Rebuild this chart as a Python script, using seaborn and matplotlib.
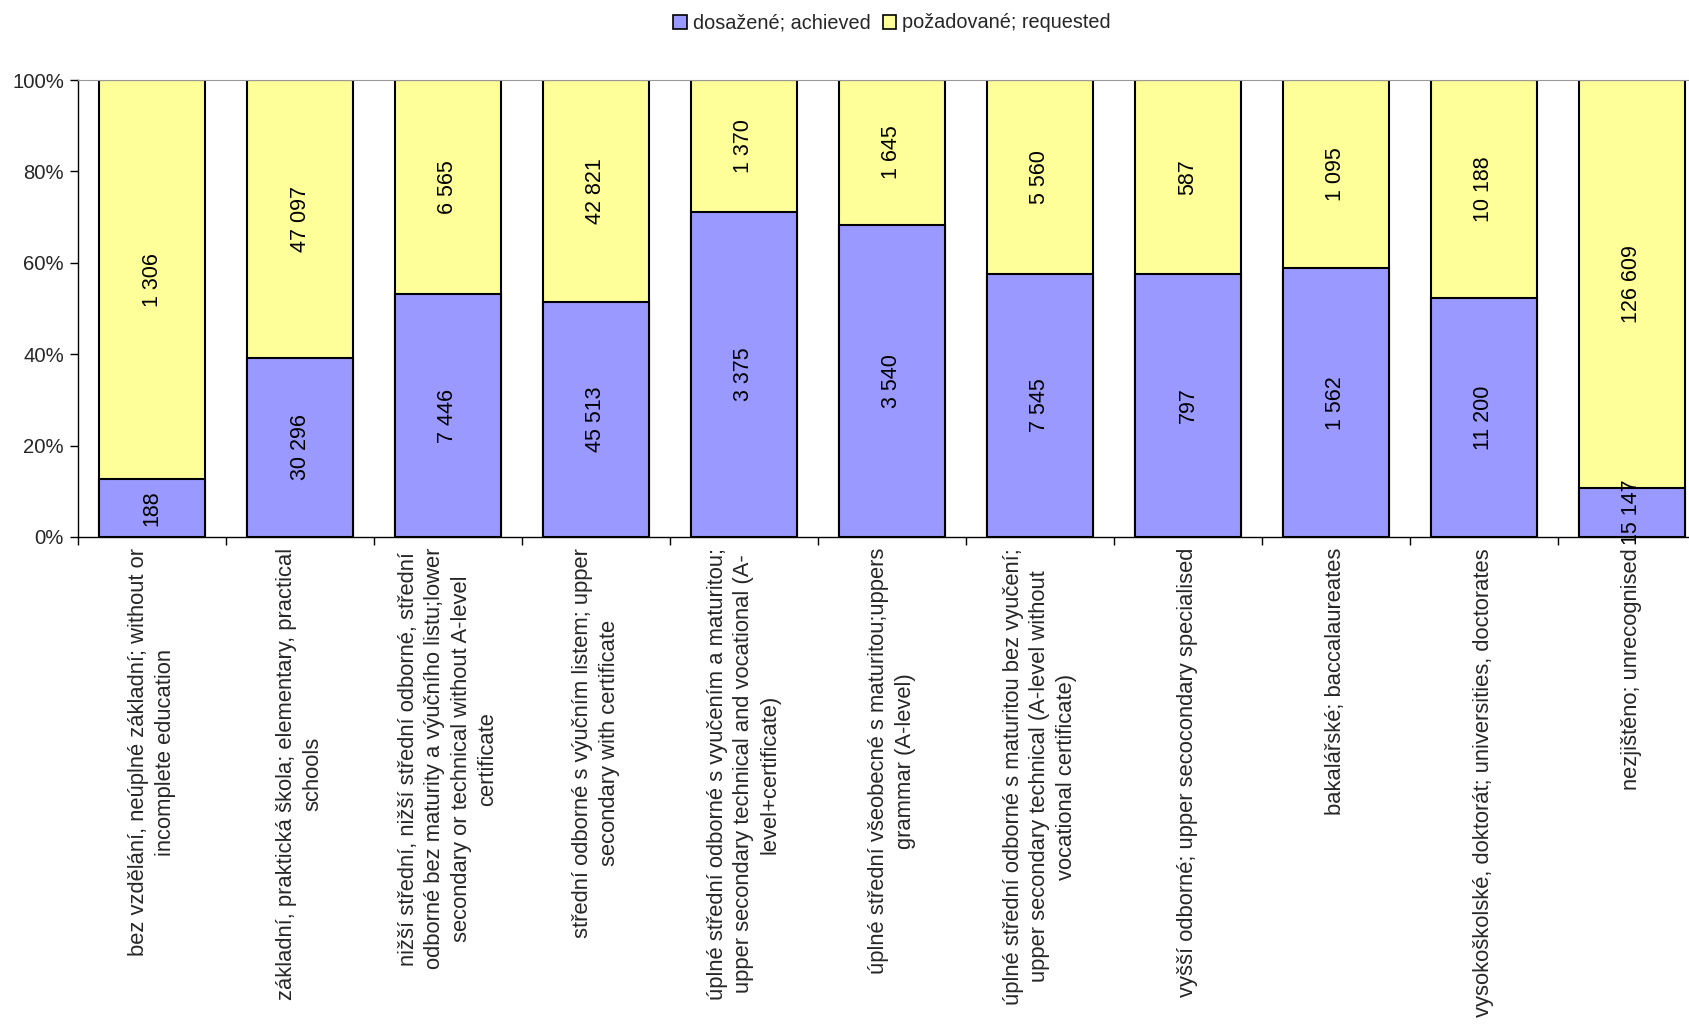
import matplotlib
matplotlib.use("Agg")
import matplotlib.pyplot as plt
import numpy as np
import pandas as pd
import seaborn as sns
from matplotlib.patches import Patch
from matplotlib.ticker import FixedLocator

categories = [
    "bez vzdělání, neúplné základní; without or\nincomplete education",
    "základní, praktická škola; elementary, practical\nschools",
    "nižší střední, nižší střední odborné, střední\nodborné bez maturity a výučního listu;lower\n"
    "secondary or technical without A-level\ncertificate",
    "střední odborné s výučním listem; upper\nsecondary with certificate",
    "úplné střední odborné s vyučením a maturitou;\nupper secondary technical and vocational (A-\n"
    "level+certificate)",
    "úplné střední všeobecné s maturitou;uppers\ngrammar (A-level)",
    "úplné střední odborné s maturitou bez vyučení;\nupper secondary technical (A-level without\n"
    "vocational certificate)",
    "vyšší odborné; upper secocondary specialised",
    "bakalářské; baccalaureates",
    "vysokoškolské, doktorát; universities, doctorates",
    "nezjištěno; unrecognised",
]
achieved = [188, 30296, 7446, 45513, 3375, 3540, 7545, 797, 1562, 11200, 15147]
requested = [1306, 47097, 6565, 42821, 1370, 1645, 5560, 587, 1095, 10188, 126609]
series_names = ["dosažené; achieved", "požadované; requested"]
colors = ["#9999FF", "#FFFF99"]

sns.set_style("white")
plt.rcParams["font.family"] = ["Liberation Sans", "DejaVu Sans"]

total = np.array(achieved) + np.array(requested)
pct_ach = np.array(achieved) / total * 100
pct_req = np.array(requested) / total * 100
df = pd.DataFrame({
    "cat": categories,
    "ach": pct_ach,
    "top": pct_ach + pct_req,
})

fig = plt.figure(figsize=(16.9, 10.26), dpi=100)
ax = fig.add_axes([78 / 1690, 1 - 537 / 1026, 1628 / 1690, 457 / 1026])

sns.barplot(data=df, x="cat", y="top", color=colors[1], width=0.72,
            edgecolor="black", linewidth=1.5, ax=ax, saturation=1)
sns.barplot(data=df, x="cat", y="ach", color=colors[0], width=0.72,
            edgecolor="black", linewidth=1.5, ax=ax, saturation=1)

# value labels in the middle of each segment
for i in range(len(categories)):
    for bottom, h, v in [(0, pct_ach[i], achieved[i]), (pct_ach[i], pct_req[i], requested[i])]:
        ax.text(i, bottom + h / 2, f"{v:,}".replace(",", " "), rotation=90,
                ha="center", va="center", fontsize=15.5, color="black")

ax.set_xlim(-0.5, len(categories) - 0.5)
ax.set_ylim(0, 100)
ax.set_yticks(np.arange(0, 101, 20))
ax.set_yticklabels([f"{t}%" for t in range(0, 101, 20)], fontsize=14.6)
ax.set_xticks(range(len(categories)))
ax.set_xticklabels(categories, rotation=90, ha="center", va="top",
                   multialignment="center", fontsize=15.8, linespacing=1.33)
ax.xaxis.set_minor_locator(FixedLocator(np.arange(-0.5, len(categories), 1)))
ax.tick_params(axis="x", which="major", length=0, pad=8)
ax.tick_params(axis="x", which="minor", length=6, width=1, color="black", direction="out", bottom=True)
ax.tick_params(axis="y", length=6, width=1, color="black", direction="out", left=True, pad=4)
ax.set_xlabel("")
ax.set_ylabel("")

for s in ["left", "bottom"]:
    ax.spines[s].set_color("black")
    ax.spines[s].set_linewidth(1)
ax.spines["top"].set_color("#999999")
ax.spines["right"].set_visible(False)

handles = [Patch(facecolor=c, edgecolor="black", linewidth=1.2) for c in colors]
fig.legend(handles, series_names, loc="center", bbox_to_anchor=(892 / 1690, 1 - 23 / 1026),
           ncol=2, frameon=False, fontsize=14.3, handlelength=0.7, handleheight=0.7,
           handletextpad=0.3, columnspacing=0.6)

fig.savefig("out.png", dpi=100)
